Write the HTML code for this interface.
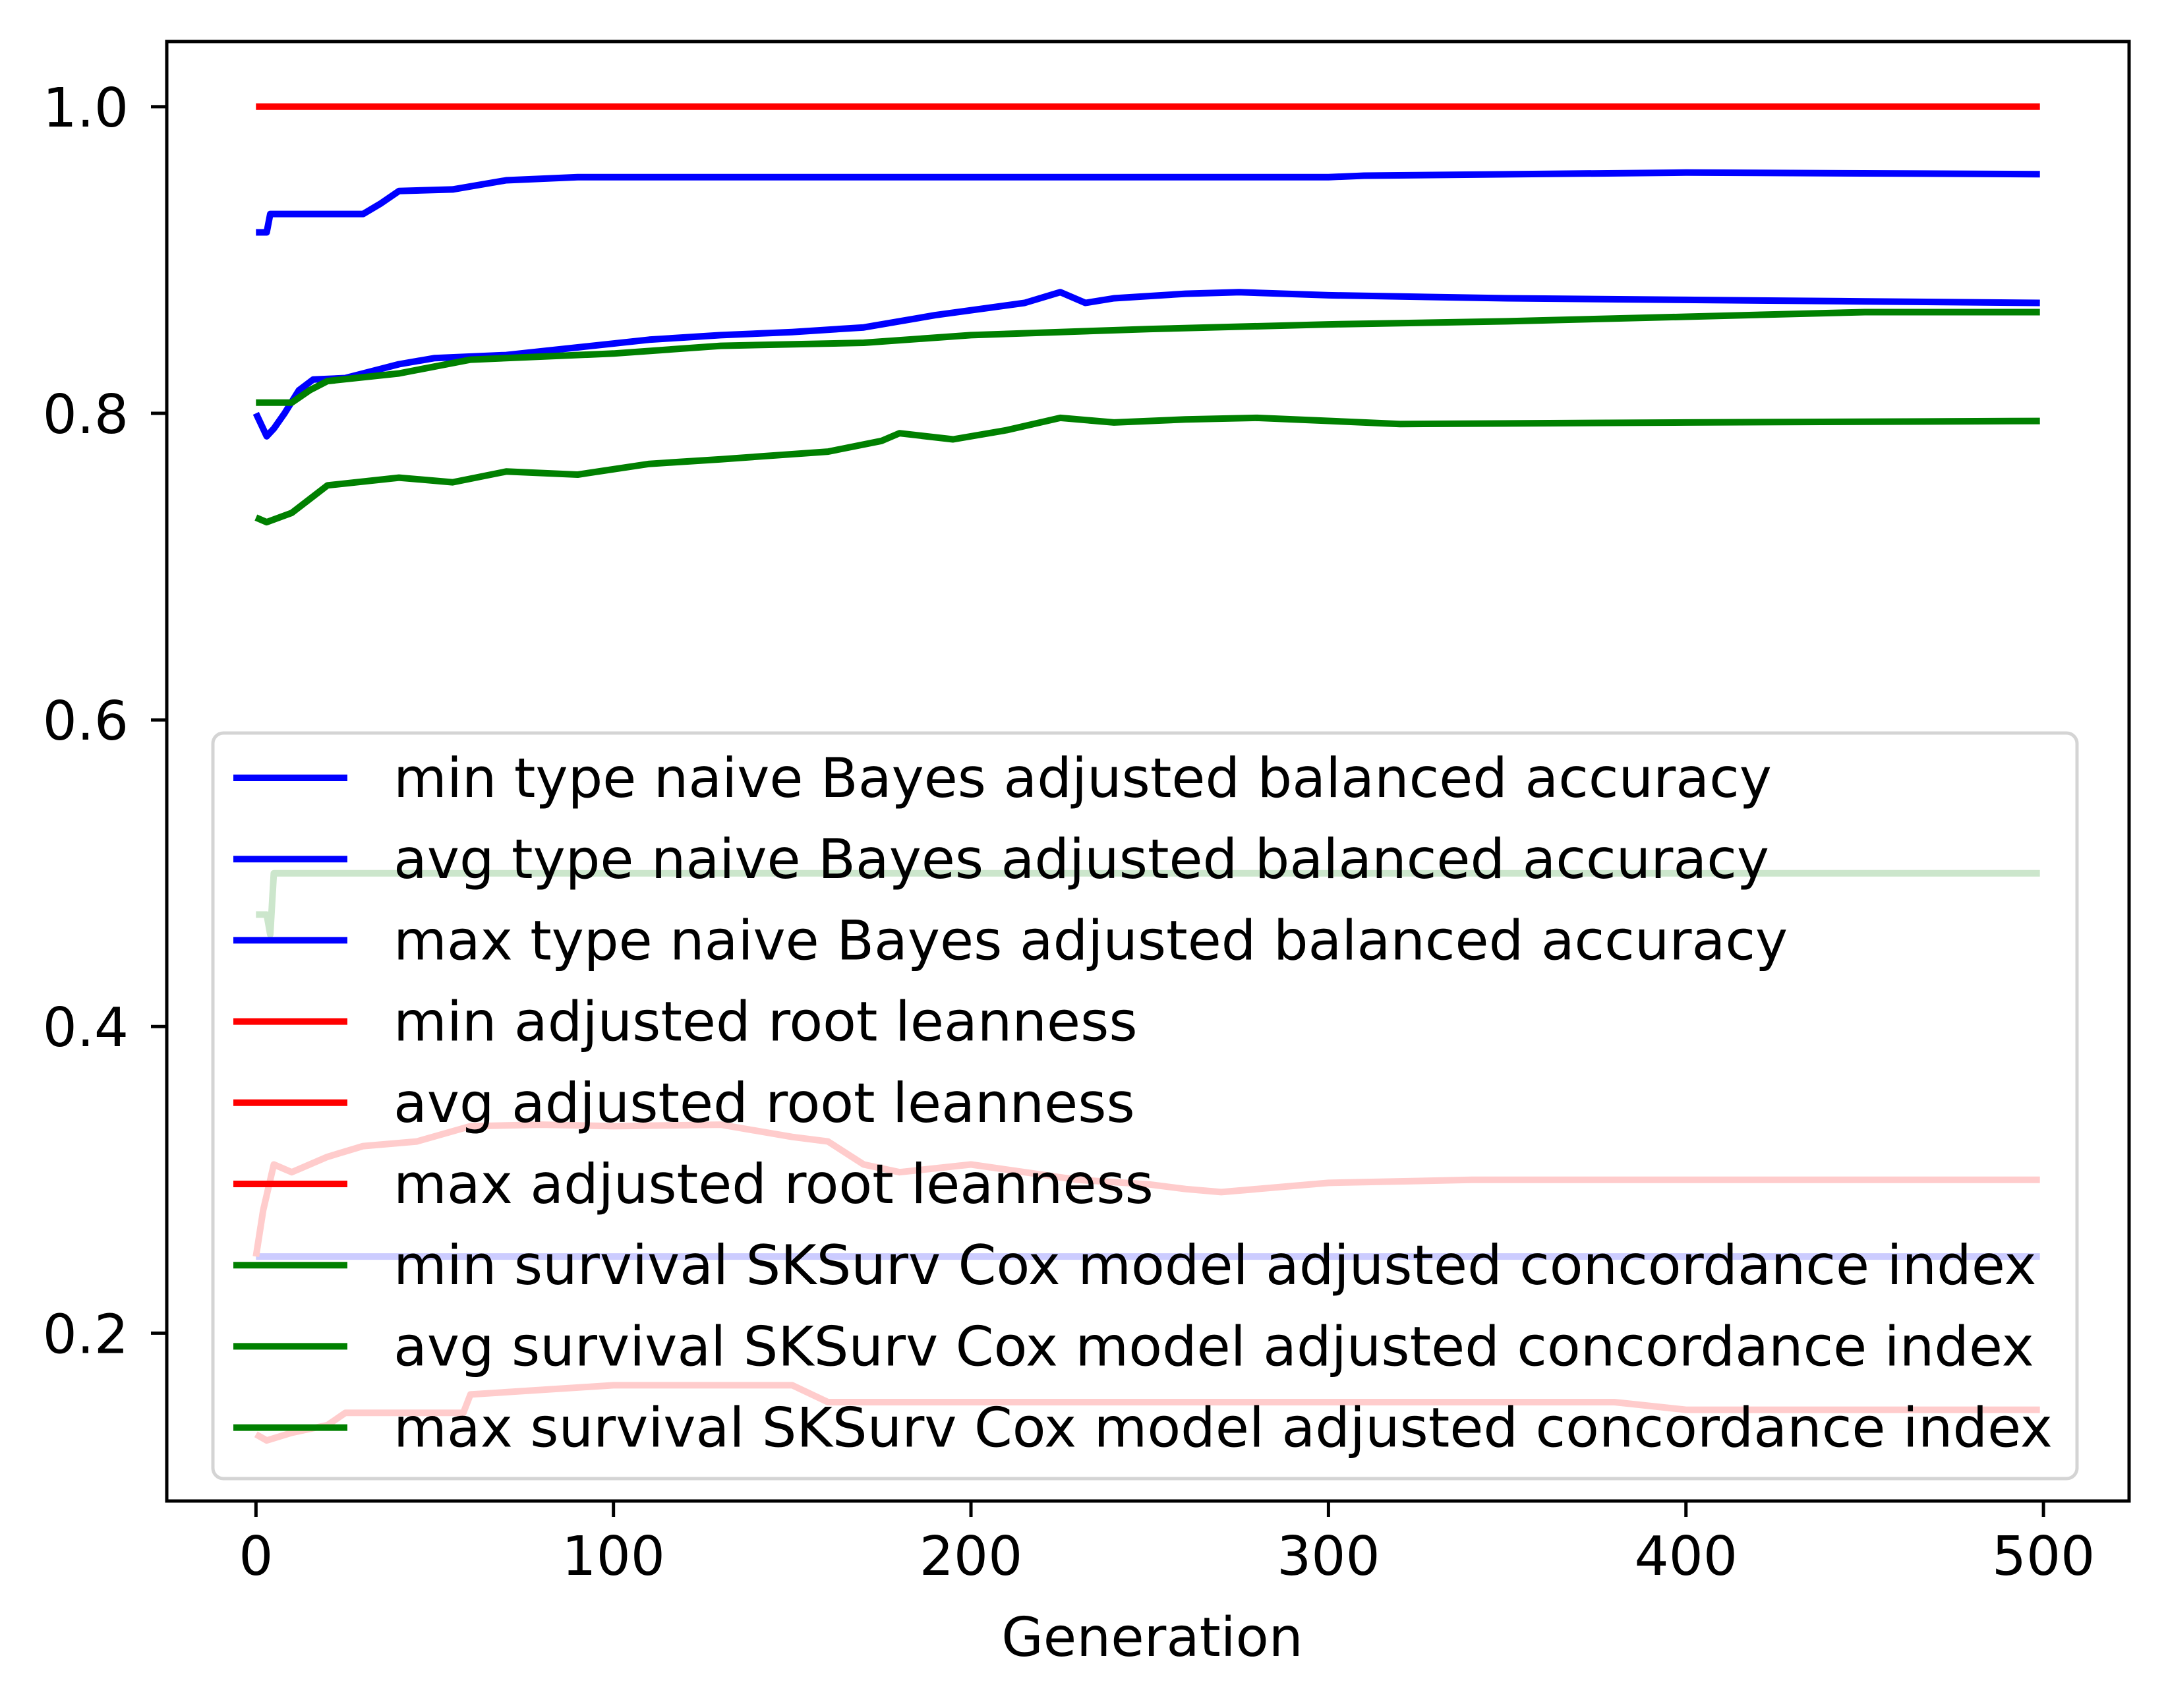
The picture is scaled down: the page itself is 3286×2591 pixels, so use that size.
<!DOCTYPE html>
<html><head><meta charset="utf-8"><style>html,body{margin:0;padding:0;background:#fff}svg{display:block}text{font-family:"DejaVu Sans","Liberation Sans",sans-serif}</style></head>
<body>
<svg id="chart" width="3286" height="2591" viewBox="0 0 3286 2591" xmlns="http://www.w3.org/2000/svg">
<rect width="3286" height="2591" fill="#fff"/>
<g id="plot"></g>
<g id="axes"></g>
<g id="legend"></g>
</svg>
<script>
const xTicks = [0,100,200,300,400,500];
const yTicks = [0.2,0.4,0.6,0.8,1.0];
const yTickLabels = ["0.2","0.4","0.6","0.8","1.0"];
const xLabelText = "Generation";

const maxNbGen = [0,3,4,30,35,40,55,70,90,300,310,400,499];
const maxNbVal = [0.918,0.918,0.93,0.93,0.937,0.945,0.946,0.952,0.954,0.954,0.955,0.957,0.956];
const avgNbGen = [0,3,5,8,12,16,25,40,50,70,90,110,130,150,170,190,215,225,232,240,260,275,300,350,400,450,499];
const avgNbVal = [0.80,0.785,0.79,0.80,0.815,0.822,0.823,0.832,0.836,0.838,0.843,0.848,0.851,0.853,0.856,0.864,0.872,0.879,0.872,0.875,0.878,0.879,0.877,0.875,0.874,0.873,0.872];
const minNbGen = [0,499];
const minNbVal = [0.25,0.25];
const maxLeanGen = [0,499];
const maxLeanVal = [1.0,1.0];
const avgLeanGen = [0,2,5,10,20,30,45,60,80,100,130,150,160,170,180,200,230,250,260,270,300,340,400,499];
const avgLeanVal = [0.25,0.28,0.31,0.305,0.315,0.322,0.325,0.335,0.336,0.335,0.336,0.328,0.325,0.31,0.305,0.31,0.3,0.297,0.294,0.292,0.298,0.3,0.3,0.3];
const minLeanGen = [0,3,10,20,25,40,58,60,100,150,160,200,380,400,499];
const minLeanVal = [0.134,0.13,0.135,0.14,0.148,0.148,0.148,0.16,0.166,0.166,0.155,0.155,0.155,0.15,0.15];
const minSurvGen = [0,3,4,5,499];
const minSurvVal = [0.473,0.473,0.46,0.5,0.5];
const avgSurvGen = [0,3,10,20,40,55,70,90,110,130,160,175,180,195,210,225,240,260,280,320,400,499];
const avgSurvVal = [0.732,0.729,0.735,0.753,0.758,0.755,0.762,0.76,0.767,0.77,0.775,0.782,0.787,0.783,0.789,0.797,0.794,0.796,0.797,0.793,0.794,0.795];
const maxSurvGen = [0,10,15,20,40,60,100,130,170,200,250,300,350,400,450,499];
const maxSurvVal = [0.807,0.807,0.815,0.821,0.826,0.835,0.839,0.844,0.846,0.851,0.855,0.858,0.86,0.863,0.866,0.866];
const legendLabels = ["min type naive Bayes adjusted balanced accuracy","avg type naive Bayes adjusted balanced accuracy","max type naive Bayes adjusted balanced accuracy","min adjusted root leanness","avg adjusted root leanness","max adjusted root leanness","min survival SKSurv Cox model adjusted concordance index","avg survival SKSurv Cox model adjusted concordance index","max survival SKSurv Cox model adjusted concordance index"];
const legendColors = ["#0000ff","#0000ff","#0000ff","#ff0000","#ff0000","#ff0000","#008000","#008000","#008000"];

const L=253,R=3230,T=63,B=2277;
const xMin=-24.95,xMax=523.95,yMin=0.0905,yMax=1.0425;
function xs(v){return L+(v-xMin)/(xMax-xMin)*(R-L);}
function ys(v){return B-(v-yMin)/(yMax-yMin)*(B-T);}
const NS="http://www.w3.org/2000/svg";
function mk(tag,attrs,parent){const e=document.createElementNS(NS,tag);for(const k in attrs)e.setAttribute(k,attrs[k]);parent.appendChild(e);return e;}

const plot=document.getElementById('plot');
const series=[
 ["min-nb-accuracy-line",minNbGen,minNbVal,"#0000ff"],
 ["avg-nb-accuracy-line",avgNbGen,avgNbVal,"#0000ff"],
 ["max-nb-accuracy-line",maxNbGen,maxNbVal,"#0000ff"],
 ["min-root-leanness-line",minLeanGen,minLeanVal,"#ff0000"],
 ["avg-root-leanness-line",avgLeanGen,avgLeanVal,"#ff0000"],
 ["max-root-leanness-line",maxLeanGen,maxLeanVal,"#ff0000"],
 ["min-survival-cindex-line",minSurvGen,minSurvVal,"#008000"],
 ["avg-survival-cindex-line",avgSurvGen,avgSurvVal,"#008000"],
 ["max-survival-cindex-line",maxSurvGen,maxSurvVal,"#008000"]];
series.forEach(s=>{
 const d=s[1].map((g,i)=>(i?'L':'M')+xs(g).toFixed(1)+' '+ys(s[2][i]).toFixed(1)).join(' ');
 const p=mk('path',{d:d,fill:'none',stroke:s[3],'stroke-width':10,'stroke-linejoin':'round'},plot);
 
 
});

const axes=document.getElementById('axes');
const frame=mk('rect',{x:L,y:T,width:R-L,height:B-T,fill:'none',stroke:'#000','stroke-width':5},axes);


xTicks.forEach(v=>{
 const t=mk('line',{x1:xs(v),x2:xs(v),y1:B,y2:B+24,stroke:'#000','stroke-width':5},axes);
 
 
 const tx=mk('text',{x:xs(v),y:B+112,'font-size':82,'text-anchor':'middle'},axes);
 tx.textContent=String(v);
 
 
});
yTicks.forEach((v,i)=>{
 const t=mk('line',{x1:L-24,x2:L,y1:ys(v),y2:ys(v),stroke:'#000','stroke-width':5},axes);
 
 
 const tx=mk('text',{x:L-58,y:ys(v)+30,'font-size':82,'text-anchor':'end'},axes);
 tx.textContent=yTickLabels[i];
 
 
});
const xl=mk('text',{x:1748,y:2512,'font-size':82,'text-anchor':'middle'},axes);
xl.textContent=xLabelText;



const lg=document.getElementById('legend');
const box=mk('rect',{x:323,y:1112,width:2828,height:1131,rx:16,fill:'#fff','fill-opacity':0.8,stroke:'#d4d4d4','stroke-width':5},lg);


legendLabels.forEach((lab,i)=>{
 const cy=1180+i*123.2;
 const ln=mk('line',{x1:354,x2:527,y1:cy,y2:cy,stroke:legendColors[i],'stroke-width':10},lg);
 
 
 const tx=mk('text',{x:597,y:cy+29,'font-size':83},lg);
 tx.textContent=lab;
 
 
});
</script>
</body></html>
